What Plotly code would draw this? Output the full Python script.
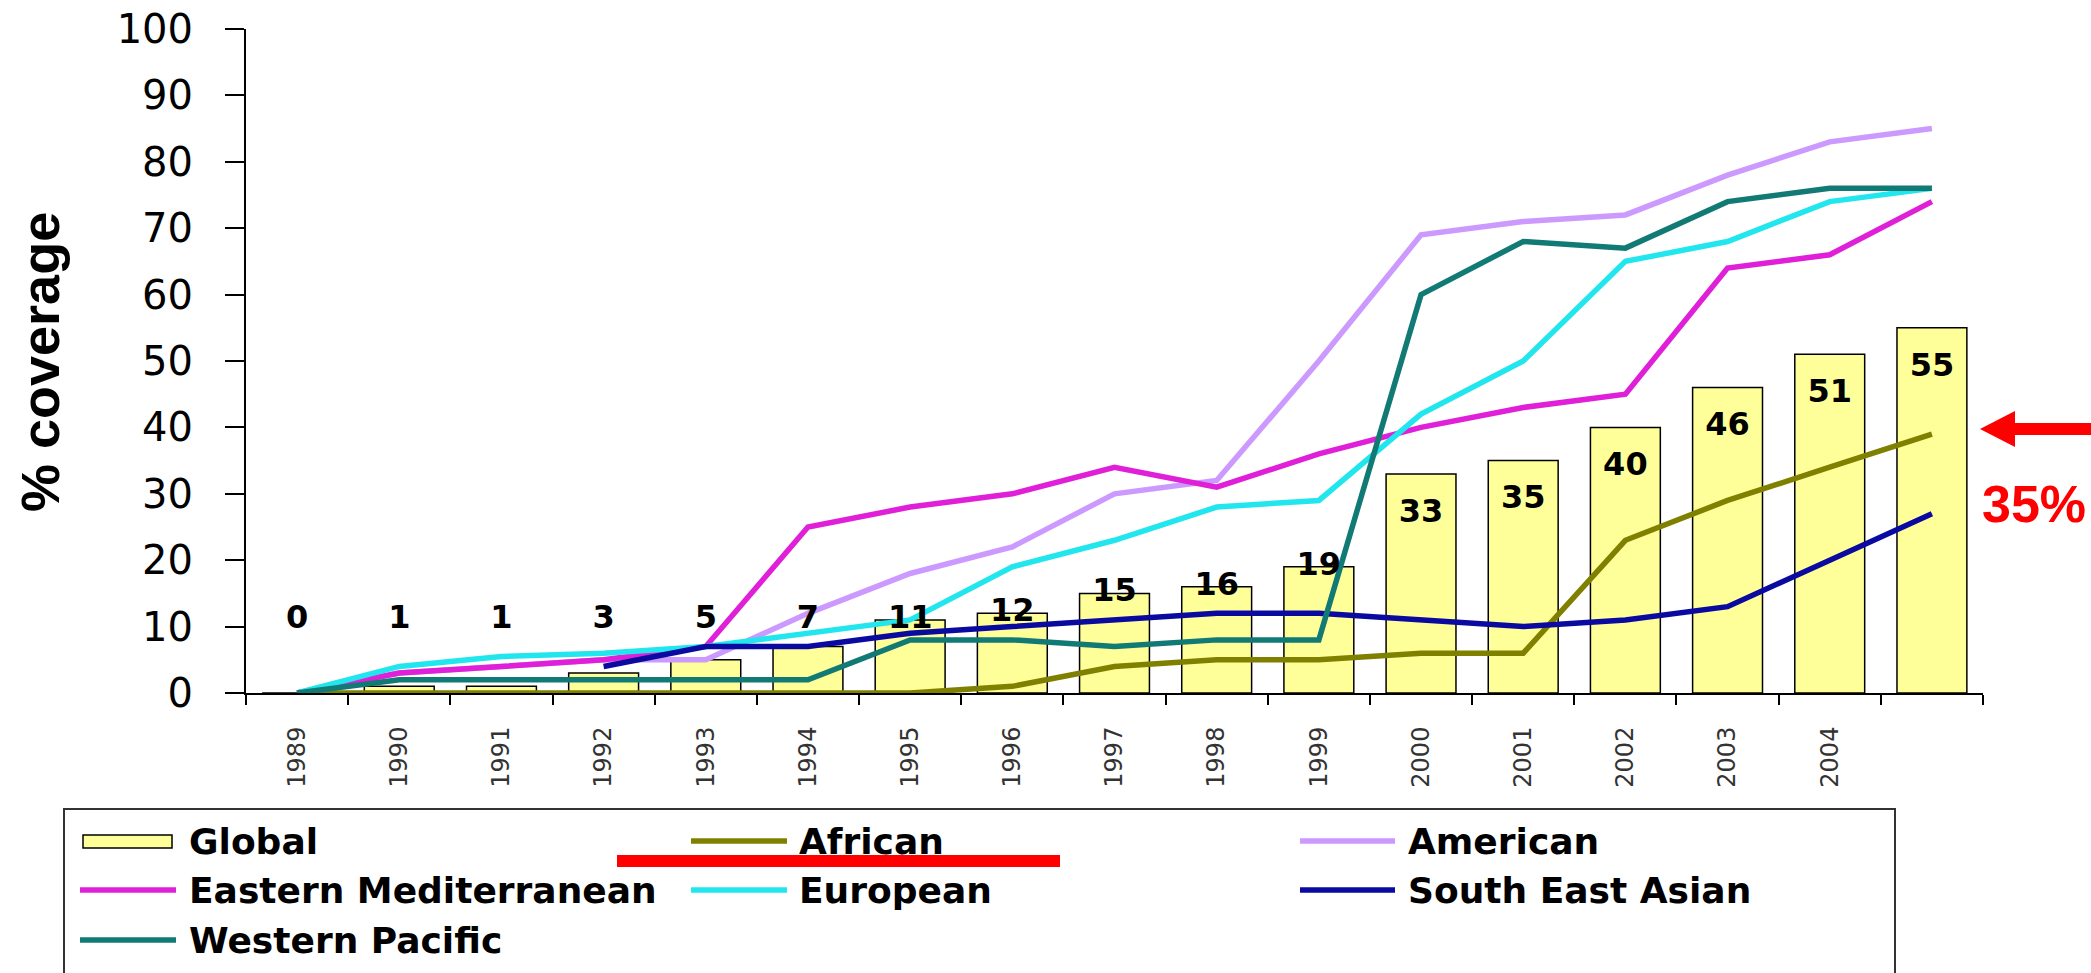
import plotly.graph_objects as go
import numpy as np

# ---------------- data ----------------
years = list(range(1989, 2006))
tick_labels = [str(y) for y in range(1989, 2005)]
global_cov = [0, 1, 1, 3, 5, 7, 11, 12, 15, 16, 19, 33, 35, 40, 46, 51, 55]
african = [0, 0, 0, 0, 0, 0, 0, 1, 4, 5, 5, 6, 6, 23, 29, 34, 39]
american = [0, 3, 4, 5, 5, 12, 18, 22, 30, 32, 50, 69, 71, 72, 78, 83, 85]
eastern_med = [0, 3, 4, 5, 7, 25, 28, 30, 34, 31, 36, 40, 43, 45, 64, 66, 74]
european = [0, 4, 5.5, 6, 7, 9, 11, 19, 23, 28, 29, 42, 50, 65, 68, 74, 76]
south_east_asian = [None, None, None, 4, 7, 7, 9, 10, 11, 12, 12, 11, 10, 11, 13, 20, 27]
western_pacific = [0, 2, 2, 2, 2, 2, 8, 8, 7, 8, 8, 60, 68, 67, 74, 76, 76]

# ---------------- styles ----------------
BAR_FILL = "#FFFF99"
COLORS = {
    "African": "#808000",
    "American": "#CC99FF",
    "Eastern Mediterranean": "#E020D8",
    "European": "#22E6EE",
    "South East Asian": "#0A0AA0",
    "Western Pacific": "#127A74",
}
W, H = 2091, 973
L, R, T, B = 246, 108, 29, 280
PW, PH = W - L - R, H - T - B


def xp(px):
    return (px - L) / PW


def yp(py):
    return (H - B - py) / PH


fig = go.Figure()

fig.add_trace(go.Bar(
    x=years, y=global_cov, name="Global",
    marker=dict(color=BAR_FILL, line=dict(color="black", width=1.5)),
    showlegend=False,
))

series = [
    ("African", african),
    ("American", american),
    ("Eastern Mediterranean", eastern_med),
    ("European", european),
    ("South East Asian", south_east_asian),
    ("Western Pacific", western_pacific),
]
for name, vals in series:
    fig.add_trace(go.Scatter(
        x=years, y=vals, name=name, mode="lines",
        line=dict(color=COLORS[name], width=5.5),
        connectgaps=False, showlegend=False,
    ))

# data labels on the bars
gv = np.array(global_cov, dtype=float)
label_y = np.where(gv > 25, gv - 6, np.maximum(gv, 11))
fig.add_trace(go.Scatter(
    x=years, y=label_y, mode="text",
    text=[str(v) for v in global_cov],
    textposition="middle center",
    textfont=dict(family="DejaVu Sans", size=32, color="black", weight="bold"),
    showlegend=False, hoverinfo="skip",
))

shapes = []
annotations = []

# y-axis title
annotations.append(dict(
    text="% coverage", xref="paper", yref="paper",
    x=xp(40), y=yp(362), xanchor="center", yanchor="middle",
    textangle=-90, showarrow=False,
    font=dict(family="Liberation Sans", size=54, color="black", weight="bold"),
))

# ---------------- manual legend ----------------
shapes.append(dict(type="rect", xref="paper", yref="paper",
                   x0=xp(64), x1=xp(1895), y0=yp(809), y1=yp(1000),
                   line=dict(color="#333333", width=2), fillcolor="rgba(0,0,0,0)"))
rows = [841, 890, 940]
cols_sym = [(80, 176), (691, 787), (1300, 1395)]
cols_txt = [187, 797, 1406]
entries = [
    ("Global", 0, 0),
    ("African", 0, 1),
    ("American", 0, 2),
    ("Eastern Mediterranean", 1, 0),
    ("European", 1, 1),
    ("South East Asian", 1, 2),
    ("Western Pacific", 2, 0),
]
for name, r, c in entries:
    ry = rows[r]
    sx0, sx1 = cols_sym[c]
    if name == "Global":
        shapes.append(dict(type="rect", xref="paper", yref="paper",
                           x0=xp(83), x1=xp(172), y0=yp(ry - 6), y1=yp(ry + 7),
                           fillcolor=BAR_FILL, line=dict(color="black", width=1.5)))
    else:
        shapes.append(dict(type="line", xref="paper", yref="paper",
                           x0=xp(sx0), x1=xp(sx1), y0=yp(ry), y1=yp(ry),
                           line=dict(color=COLORS[name], width=5.5)))
    annotations.append(dict(
        text=name, xref="paper", yref="paper", x=xp(cols_txt[c]), y=yp(ry),
        xanchor="left", yanchor="middle", showarrow=False,
        font=dict(family="DejaVu Sans", size=36, color="black", weight="bold"),
    ))

# red underline beneath "African"
shapes.append(dict(type="rect", xref="paper", yref="paper",
                   x0=xp(617), x1=xp(1060), y0=yp(855), y1=yp(867),
                   fillcolor="#FF0000", line=dict(width=0)))

# red arrow pointing at the African end value
pts = [(1980, 429), (2015, 411), (2015, 423), (2100, 423), (2100, 435), (2015, 435), (2015, 447)]
path = "M " + " L ".join(f"{xp(a):.5f},{yp(b):.5f}" for a, b in pts) + " Z"
shapes.append(dict(type="path", xref="paper", yref="paper", path=path,
                   fillcolor="#FF0000", line=dict(width=0)))
annotations.append(dict(
    text="35%", xref="paper", yref="paper", x=xp(2034), y=yp(504),
    xanchor="center", yanchor="middle", showarrow=False,
    font=dict(family="Liberation Sans", size=52, color="#FF0000", weight="bold"),
))

fig.update_layout(
    width=W, height=H,
    margin=dict(l=L, r=R, t=T, b=B, autoexpand=False),
    paper_bgcolor="white", plot_bgcolor="white",
    bargap=0.316,
    showlegend=False,
    shapes=shapes, annotations=annotations,
    xaxis=dict(
        type="linear", range=[1988.5, 2005.5],
        tickmode="array", tickvals=list(range(1989, 2005)), ticktext=tick_labels,
        ticks="", tickangle=-90, ticklabelstandoff=22,
        tickfont=dict(family="DejaVu Sans", size=24, color="#333333"),
        minor=dict(tickmode="array", tickvals=[y - 0.5 for y in years] + [2005.5],
                   ticks="outside", ticklen=10, tickwidth=2, tickcolor="black"),
        showline=True, linecolor="black", linewidth=2,
        showgrid=False, zeroline=False,
    ),
    yaxis=dict(
        range=[0, 100], tickmode="linear", tick0=0, dtick=10,
        ticks="outside", ticklen=19, tickwidth=2, tickcolor="black",
        ticklabelstandoff=24,
        tickfont=dict(family="DejaVu Sans", size=40, color="black"),
        showline=True, linecolor="black", linewidth=2,
        showgrid=False, zeroline=False,
    ),
)

fig.write_html("out.html")
